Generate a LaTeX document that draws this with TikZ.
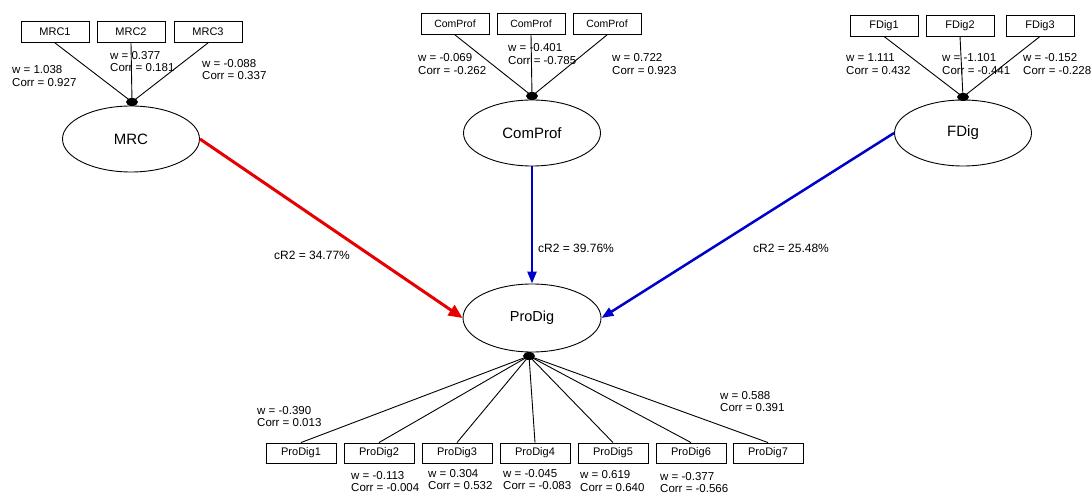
\documentclass[tikz,border=0pt]{standalone}
\usepackage{fontspec}
\setmainfont{Liberation Sans}
\usetikzlibrary{shapes.geometric,arrows.meta}
\tikzset{
  ind/.style={draw,line width=0.9pt,minimum width=68pt,minimum height=21pt,inner sep=0pt,font=\fontsize{11}{12}\selectfont},
  lat/.style={draw,line width=0.9pt,ellipse,minimum width=137pt,minimum height=66pt,inner sep=0pt,font=\fontsize{15}{16}\selectfont},
  lbl/.style={anchor=west,align=left,inner sep=0pt,font=\fontsize{11.5}{12.8}\selectfont},
  crlbl/.style={inner sep=0pt,font=\fontsize{12}{13}\selectfont},
  link/.style={line width=0.9pt},
  hub/.style={fill=black},
  redarr/.style={draw={rgb,255:red,230;green,0;blue,0},line width=3pt,-{Triangle[length=14pt,width=12pt]}},
  bluearr/.style={draw={rgb,255:red,0;green,0;blue,205},line width=2.5pt,-{Triangle[length=12pt,width=9pt]}}
}
\begin{document}
\begin{tikzpicture}[x=1pt,y=-1pt]
\useasboundingbox (0,0) rectangle (1091,494);
% MRC block
\node[ind] (mrc1) at (55,32) {MRC1};
\node[ind] (mrc2) at (131,32) {MRC2};
\node[ind] (mrc3) at (208,32) {MRC3};
\coordinate (jm) at (132,102);
\node[lat] (MRC) at (131,139) {MRC};
\foreach \b in {mrc1,mrc2,mrc3} \draw[link] (\b.south) -- (jm);
\fill[hub] (jm) ellipse (6pt and 4pt);
\node[lbl] at (12,76) {w = 1.038\\Corr = 0.927};
\node[lbl] at (110,61.5) {w = 0.377\\Corr = 0.181};
\node[lbl] at (202,69.5) {w = -0.088\\Corr = 0.337};
% ComProf block
\node[ind,font=\fontsize{10.5}{12}\selectfont] (cp1) at (455,24) {ComProf};
\node[ind,font=\fontsize{10.5}{12}\selectfont] (cp2) at (531,24) {ComProf};
\node[ind,font=\fontsize{10.5}{12}\selectfont] (cp3) at (607,24) {ComProf};
\coordinate (jc) at (532,96);
\node[lat] (ComProf) at (532,133) {ComProf};
\foreach \b in {cp1,cp2,cp3} \draw[link] (\b.south) -- (jc);
\fill[hub] (jc) ellipse (6pt and 4pt);
\node[lbl] at (418,64) {w = -0.069\\Corr = -0.262};
\node[lbl] at (508,54) {w = -0.401\\Corr = -0.785};
\node[lbl] at (612,64) {w = 0.722\\Corr = 0.923};
% FDig block
\node[ind] (fd1) at (884,25.5) {FDig1};
\node[ind] (fd2) at (960,25.5) {FDig2};
\node[ind] (fd3) at (1040,25.5) {FDig3};
\coordinate (jf) at (963,97);
\node[lat] (FDig) at (963,133) {FDig};
\foreach \b in {fd1,fd2,fd3} \draw[link] (\b.south) -- (jf);
\fill[hub] (jf) ellipse (6pt and 4pt);
\node[lbl] at (846,64) {w = 1.111\\Corr = 0.432};
\node[lbl] at (942,64) {w = -1.101\\Corr = -0.441};
\node[lbl] at (1023,64) {w = -0.152\\Corr = -0.228};
% ProDig block
\node[lat,minimum height=68pt,minimum width=138pt,font=\fontsize{14.5}{16}\selectfont] (ProDig) at (532,318) {ProDig};
\coordinate (jp) at (529,356);
\foreach \i/\x in {1/301,2/379,3/457,4/535,5/613,6/691,7/768}{
  \node[ind,minimum width=70pt,minimum height=20pt] (pd\i) at (\x,453) {ProDig\i};
  \draw[link] (pd\i.north) -- (jp);
}
\fill[hub] (jp) ellipse (6pt and 4pt);
\node[lbl] at (257,416.5) {w = -0.390\\Corr = 0.013};
\node[lbl] at (351,481.5) {w = -0.113\\Corr = -0.004};
\node[lbl] at (428,479.5) {w = 0.304\\Corr = 0.532};
\node[lbl] at (503,479.5) {w = -0.045\\Corr = -0.083};
\node[lbl] at (580,481) {w = 0.619\\Corr = 0.640};
\node[lbl] at (660,482.5) {w = -0.377\\Corr = -0.566};
\node[lbl] at (720,401.5) {w = 0.588\\Corr = 0.391};
% structural paths
\draw[redarr] (MRC.east) -- (ProDig.west);
\draw[bluearr] (ComProf.south) -- (ProDig.north);
\draw[bluearr] (FDig.west) -- (ProDig.east);
\node[crlbl] at (312,255) {cR2 = 34.77\%};
\node[crlbl] at (576,248) {cR2 = 39.76\%};
\node[crlbl] at (791,248) {cR2 = 25.48\%};
\end{tikzpicture}
\end{document}
